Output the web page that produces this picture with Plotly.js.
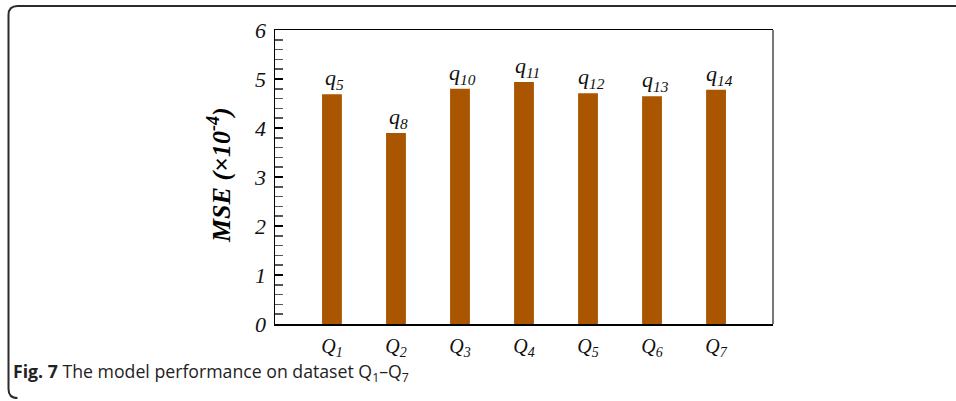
<!DOCTYPE html>
<html>
<head>
<meta charset="utf-8">
<script src="https://cdn.plot.ly/plotly-3.0.1.min.js"></script>
<style>
  html, body { margin: 0; padding: 0; background: #fff; }
  #chart { width: 956px; height: 401px; }
</style>
</head>
<body>
<div id="chart"></div>
<script>
// Datasets, their MSE (in units of 1e-4) and the best sub-model index for each
const datasets = ['Q1', 'Q2', 'Q3', 'Q4', 'Q5', 'Q6', 'Q7'];
const datasetSub = ['1', '2', '3', '4', '5', '6', '7'];
const mse = [4.69, 3.90, 4.80, 4.94, 4.71, 4.65, 4.78];
const bestModel = ['5', '8', '10', '11', '12', '13', '14'];
const yTicks = [0, 1, 2, 3, 4, 5, 6];

const serif = '"Liberation Serif", "Times New Roman", serif';
const sans = '"Open Sans", "Noto Sans", sans-serif';

// Plot area geometry (pixels) used to place the surrounding frame in paper units
const W = 956, H = 401;
const M = { l: 275, r: 183, t: 30, b: 77 };
const pw = W - M.l - M.r, ph = H - M.t - M.b;
const px = x => (x - M.l) / pw;
const py = y => (H - M.b - y) / ph;

const trace = {
  type: 'bar',
  x: datasets,
  y: mse,
  width: 0.31,
  marker: { color: '#AA5500', line: { width: 0 } },
  hoverinfo: 'x+y'
};

const labels = datasets.map((d, i) => ({
  x: d,
  y: mse[i],
  xref: 'x',
  yref: 'y',
  text: '<i>q<sub>' + bestModel[i] + '</sub></i>',
  showarrow: false,
  yanchor: 'bottom',
  yshift: -1,
  xshift: 3,
  font: { family: serif, size: 22, style: 'italic', color: '#111' }
}));

// Frame: left, top and rounded corners
const fl = px(8.5), ft = py(6), fb = py(398), fr = px(962);
const rx = 9 / pw, ry = 9 / ph;
const framePath =
  'M ' + fr + ',' + ft +
  ' L ' + (fl + rx) + ',' + ft +
  ' Q ' + fl + ',' + ft + ' ' + fl + ',' + (ft - ry) +
  ' L ' + fl + ',' + (fb + ry) +
  ' Q ' + fl + ',' + fb + ' ' + (fl + rx) + ',' + fb +
  ' L ' + (fl + 6 / pw) + ',' + fb;

const caption = {
  xref: 'paper', yref: 'paper',
  x: px(11), y: py(372),
  xanchor: 'left', yanchor: 'middle',
  showarrow: false,
  text: '<b>Fig. 7</b> The model performance on dataset Q<sub>1</sub>\u2013Q<sub>7</sub>',
  font: { family: sans, size: 17.7, color: '#222' }
};

const yTitle = {
  xref: 'paper', yref: 'paper',
  x: px(219), y: py(175),
  xanchor: 'center', yanchor: 'middle',
  textangle: -90,
  showarrow: false,
  text: '<b><i>MSE (\u00d710<sup>-4</sup>)</i></b>',
  font: { family: serif, size: 26, style: 'italic', weight: 'bold', color: '#000' }
};

const layout = {
  width: W,
  height: H,
  margin: M,
  paper_bgcolor: '#fff',
  plot_bgcolor: '#fff',
  showlegend: false,
  xaxis: {
    type: 'category',
    range: [-0.89, 6.89],
    tickvals: datasets,
    ticktext: datasetSub.map(s => '<i>Q<sub>' + s + '</sub></i>'),
    ticks: '',
    ticklabelstandoff: 3,
    tickfont: { family: serif, size: 20, style: 'italic', color: '#111' },
    showline: true,
    linecolor: '#000',
    linewidth: 1.5,
    mirror: true,
    showgrid: false,
    zeroline: false
  },
  yaxis: {
    range: [0, 6],
    tickvals: yTicks,
    ticktext: yTicks.map(v => '<i>' + v + '</i>'),
    ticks: 'inside',
    ticklen: 8,
    tickwidth: 1.5,
    tickcolor: '#000',
    ticklabelstandoff: 3,
    tickfont: { family: serif, size: 22, style: 'italic', color: '#111' },
    minor: { dtick: 0.2, ticks: 'inside', ticklen: 8, tickwidth: 1.5, tickcolor: '#555' },
    showline: true,
    linecolor: '#000',
    linewidth: 1.5,
    mirror: false,
    showgrid: false,
    zeroline: false
  },
  shapes: [
    {
      type: 'line', xref: 'paper', yref: 'paper',
      x0: 1, x1: 1, y0: 0, y1: 1,
      line: { color: '#777', width: 2 }
    },
    {
      type: 'path', xref: 'paper', yref: 'paper',
      path: framePath,
      line: { color: '#2b2b2b', width: 2 }
    }
  ],
  annotations: labels.concat([caption, yTitle])
};

Plotly.newPlot('chart', [trace], layout, { displayModeBar: false, staticPlot: true });
</script>
</body>
</html>
